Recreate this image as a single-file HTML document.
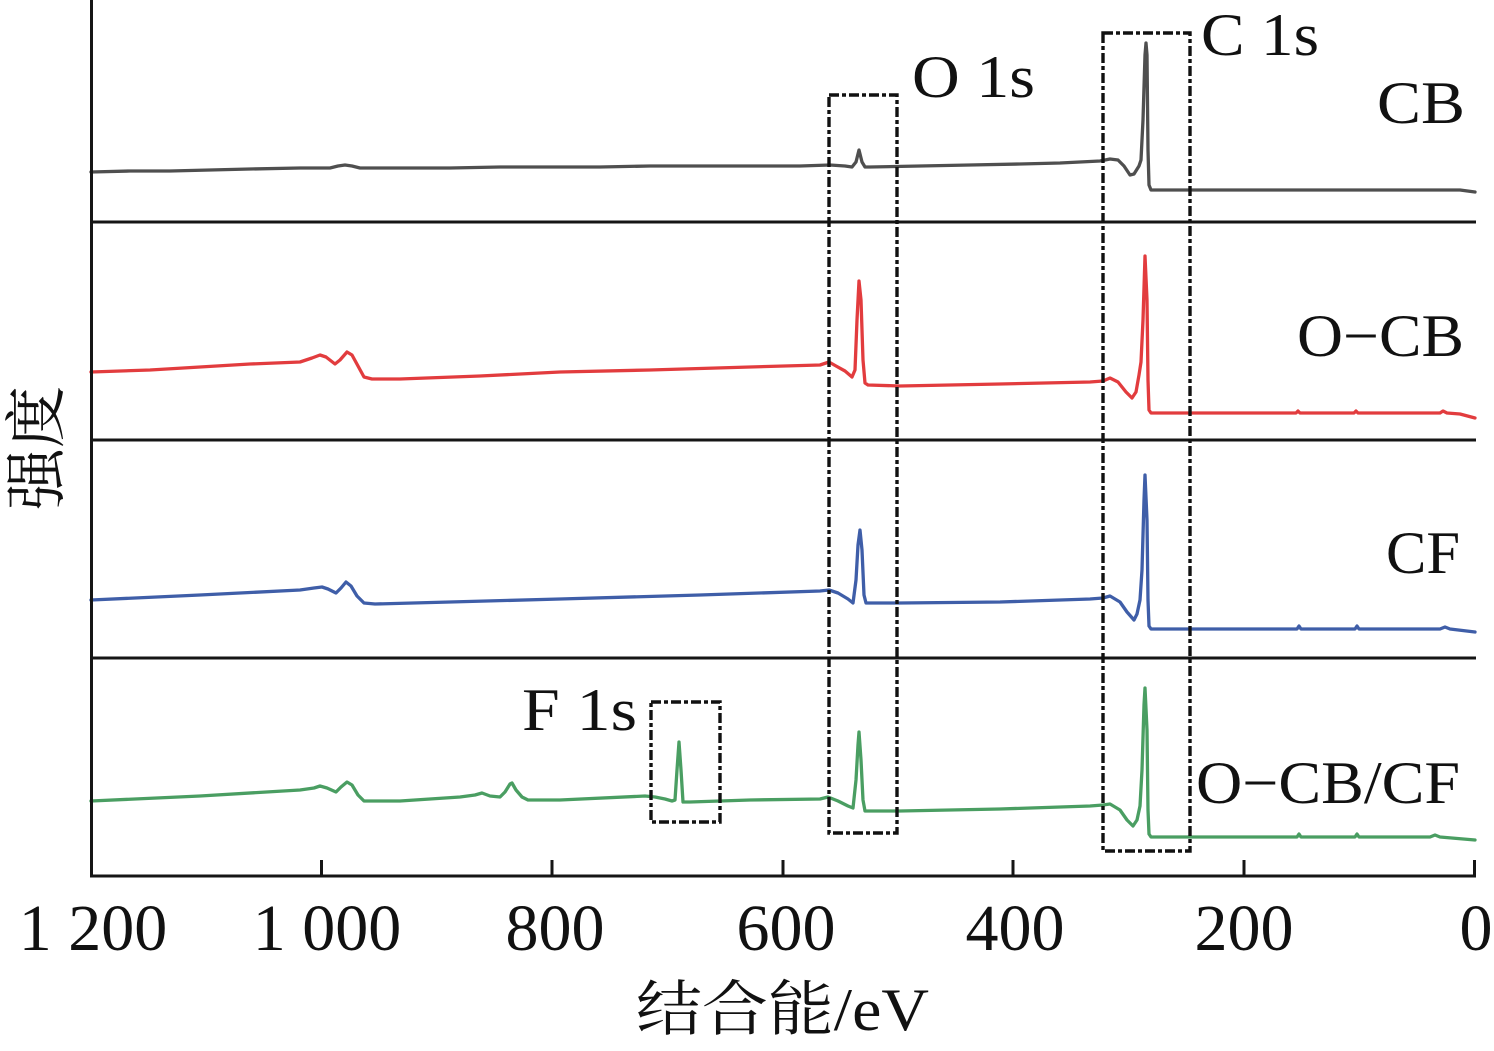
<!DOCTYPE html>
<html>
<head>
<meta charset="utf-8">
<style>
  html, body { margin: 0; padding: 0; background: #ffffff; }
  svg { display: block; }
  .lbl { font-family: "Liberation Serif", "Noto Serif CJK SC", serif; fill: #111; }
</style>
</head>
<body>
<svg width="1494" height="1051" viewBox="0 0 1494 1051" xmlns="http://www.w3.org/2000/svg">
  <rect x="0" y="0" width="1494" height="1051" fill="#ffffff"/>

  <!-- separators -->
  <g stroke="#151515" stroke-width="3" fill="none">
    <line x1="91" y1="222" x2="1476" y2="222"/>
    <line x1="91" y1="440" x2="1476" y2="440"/>
    <line x1="91" y1="658" x2="1476" y2="658"/>
  </g>

  <!-- traces -->
  <g fill="none" stroke-width="3.3" stroke-linejoin="round" stroke-linecap="round">
    <!-- CB gray -->
    <polyline stroke="#4f4f4f" points="91,172 130,171 170,171 210,170 250,169 300,168 330,168 338,166 345,165 352,166 360,168 400,168 450,168 500,167 550,167 600,167 650,166 700,166 750,166 800,166 830,165 845,166 852,167 856,162 859,150 862,162 865,167 870,167 920,166 970,165 1020,164 1060,163 1100,161 1110,159 1118,160 1124,166 1130,175 1134,174 1139,166 1141,160 1143,120 1145,55 1146,43 1147,55 1148,150 1149,185 1151,190 1200,190 1300,190 1400,190 1460,190 1475,192"/>
    <!-- O-CB red -->
    <polyline stroke="#e23c3e" points="91,372 150,370 200,367 250,364 300,362 312,358 320,355 326,357 335,364 340,360 347,352 352,355 358,366 364,377 372,379 400,379 480,376 560,372 650,370 750,367 820,365 829,362 836,366 845,371 852,377 855,370 857,320 859,281 861,300 863,360 865,383 868,385 900,386 1000,384 1090,382 1103,381 1110,378 1118,382 1126,392 1132,398 1136,392 1139,375 1141,362 1143,320 1145,256 1147,300 1148,380 1149,410 1151,413 1296,413 1298,411 1300,413 1354,413 1356,411 1358,413 1440,413 1443,411 1447,413 1460,414 1475,418"/>
    <!-- CF blue -->
    <polyline stroke="#3f5ea8" points="91,600 200,595 300,590 314,588 322,587 328,589 336,593 341,588 346,582 351,586 357,596 364,603 375,604 450,602 560,599 700,595 820,591 829,590 838,593 848,599 853,603 856,580 858,545 860,530 862,550 864,595 866,603 900,603 1000,602 1090,599 1103,598 1110,596 1120,602 1127,612 1134,620 1137,614 1140,600 1142,570 1144,500 1145,475 1147,520 1148,600 1149,626 1151,629 1297,629 1299,626 1301,629 1355,629 1357,626 1359,629 1440,629 1445,627 1450,629 1475,632"/>
    <!-- O-CB/CF green -->
    <polyline stroke="#4a9e62" points="91,801 200,796 300,790 314,788 320,786 327,788 336,792 341,787 347,782 352,785 358,795 364,801 400,801 460,797 475,795 482,793 490,796 500,797 505,792 510,784 512,783 516,790 522,797 528,800 560,800 645,796 655,797 665,799 672,801 675,800 677,770 679,742 681,770 683,802 690,802 750,800 820,799 828,797 838,801 848,806 853,808 856,780 858,745 859,732 861,760 863,800 865,811 900,811 1000,809 1090,806 1103,805 1110,804 1120,810 1127,820 1133,826 1137,820 1140,806 1142,770 1144,705 1145,688 1147,730 1148,810 1149,834 1151,837 1297,837 1299,834 1301,837 1355,837 1357,834 1359,837 1430,837 1435,835 1440,837 1475,840"/>
  </g>

  <!-- axes -->
  <g stroke="#151515" stroke-width="3" fill="none">
    <line x1="91.5" y1="0" x2="91.5" y2="877.5"/>
    <line x1="90" y1="876" x2="1476" y2="876"/>
    <line x1="321.5" y1="860" x2="321.5" y2="876"/>
    <line x1="552" y1="860" x2="552" y2="876"/>
    <line x1="783" y1="860" x2="783" y2="876"/>
    <line x1="1013" y1="860" x2="1013" y2="876"/>
    <line x1="1244" y1="860" x2="1244" y2="876"/>
    <line x1="1474.5" y1="860" x2="1474.5" y2="876"/>
  </g>

  <!-- dashed boxes -->
  <g stroke="#111" stroke-width="3.4" fill="none" stroke-dasharray="10 3 4 3">
    <rect x="829" y="95" width="68" height="738"/>
    <rect x="1103" y="33" width="87" height="818"/>
    <rect x="651" y="702" width="69" height="120"/>
  </g>

  <!-- tick labels -->
  <g class="lbl" font-size="66" text-anchor="middle">
    <text x="93" y="950">1 200</text>
    <text x="327" y="950">1 000</text>
    <text x="555" y="950">800</text>
    <text x="786" y="950">600</text>
    <text x="1015" y="950">400</text>
    <text x="1244" y="950">200</text>
    <text x="1476" y="950">0</text>
  </g>

  <!-- annotations -->
  <g class="lbl" font-size="60">
    <text x="1201" y="55" textLength="118" lengthAdjust="spacingAndGlyphs">C 1s</text>
    <text x="912" y="97" textLength="123" lengthAdjust="spacingAndGlyphs">O 1s</text>
    <text x="1377" y="123" textLength="88" lengthAdjust="spacingAndGlyphs">CB</text>
    <text x="1297" y="356" textLength="167" lengthAdjust="spacingAndGlyphs">O−CB</text>
    <text x="1386" y="573" textLength="74" lengthAdjust="spacingAndGlyphs">CF</text>
    <text x="1196" y="803" textLength="264" lengthAdjust="spacingAndGlyphs">O−CB/CF</text>
    <text x="522" y="730" textLength="115" lengthAdjust="spacingAndGlyphs">F 1s</text>
  </g>

  <!-- axis titles -->
  <text class="lbl" x="636" y="1030" font-size="60" textLength="293" lengthAdjust="spacingAndGlyphs">结合能/eV</text>
  <text class="lbl" font-size="62" text-anchor="middle" transform="translate(58,448) rotate(-90)">强度</text>
</svg>
</body>
</html>
